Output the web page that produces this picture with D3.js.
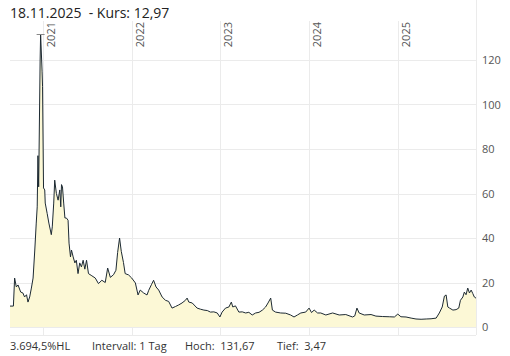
<!DOCTYPE html>
<html>
<head>
<meta charset="utf-8">
<script src="https://cdn.jsdelivr.net/npm/d3@7"></script>
<style>
  body { margin: 0; background: #fff; }
  svg { display: block; font-family: "Open Sans", sans-serif; }
</style>
</head>
<body>
<svg id="chart" width="510" height="356"></svg>
<script>
// Kursverlauf
const dates = [
  "2020-08-18","2020-09-01","2020-09-06","2020-09-13","2020-09-20","2020-10-01","2020-10-10","2020-10-17",
  "2020-10-25","2020-10-31","2020-11-07","2020-11-14","2020-11-21","2020-11-28","2020-12-04","2020-12-08",
  "2020-12-11","2020-12-14","2020-12-20","2020-12-22","2020-12-28","2020-12-30","2021-01-03","2021-01-08",
  "2021-01-10","2021-01-18","2021-01-25","2021-01-31","2021-02-04","2021-02-08","2021-02-14","2021-02-18",
  "2021-02-25","2021-03-04","2021-03-11","2021-03-15","2021-03-18","2021-03-22","2021-03-27","2021-04-01",
  "2021-04-07","2021-04-14","2021-04-18","2021-04-24","2021-04-28","2021-05-05","2021-05-12","2021-05-18",
  "2021-05-25","2021-06-01","2021-06-08","2021-06-15","2021-06-22","2021-06-29","2021-07-07","2021-07-21",
  "2021-08-04","2021-08-17","2021-08-31","2021-09-14","2021-09-24","2021-10-05","2021-10-18","2021-10-28",
  "2021-11-04","2021-11-12","2021-11-19","2021-11-28","2021-12-05","2021-12-19","2022-01-01","2022-01-16",
  "2022-01-27","2022-02-05","2022-02-19","2022-03-05","2022-03-12","2022-03-23","2022-04-01","2022-04-11",
  "2022-04-22","2022-05-06","2022-05-20","2022-06-02","2022-06-16","2022-06-30","2022-07-13","2022-07-27",
  "2022-08-10","2022-08-17","2022-08-24","2022-09-07","2022-09-27","2022-10-11","2022-10-25","2022-11-08",
  "2022-11-21","2022-12-05","2022-12-19","2022-12-30","2023-01-08","2023-01-22","2023-02-05","2023-02-15",
  "2023-02-21","2023-03-04","2023-03-18","2023-04-01","2023-04-15","2023-04-28","2023-05-12","2023-05-26",
  "2023-06-09","2023-06-23","2023-07-06","2023-07-16","2023-07-27","2023-08-03","2023-08-16","2023-09-06",
  "2023-09-27","2023-10-17","2023-10-31","2023-11-14","2023-11-28","2023-12-18","2024-01-01","2024-01-11",
  "2024-01-22","2024-02-05","2024-02-18","2024-03-10","2024-04-07","2024-05-04","2024-05-31","2024-06-28",
  "2024-07-07","2024-07-16","2024-07-25","2024-08-15","2024-09-12","2024-10-02","2024-10-30","2024-11-26",
  "2024-12-17","2024-12-31","2025-01-13","2025-02-03","2025-02-24","2025-03-16","2025-04-06","2025-04-27",
  "2025-05-17","2025-06-07","2025-06-20","2025-07-02","2025-07-11","2025-07-18","2025-07-25","2025-08-01",
  "2025-08-15","2025-08-28","2025-09-08","2025-09-15","2025-09-25","2025-10-01","2025-10-08","2025-10-15",
  "2025-10-22","2025-10-29","2025-11-05","2025-11-11","2025-11-18"
];
const kurs = [
  9.4, 9.4, 22, 18, 18.9, 15.7, 15.3, 13.5,
  14.5, 11.2, 13.5, 17.5, 22, 34.6, 46.7, 54,
  77, 63, 120, 131.67, 115, 108, 62.5, 61.6,
  55.7, 51, 46.7, 43.6, 41.5, 45, 55.7, 66,
  60, 57, 61.6, 54, 64, 63, 55.7, 49,
  49, 48, 37.7, 31.5, 34.6, 31.5, 28.8, 30,
  24, 28.8, 27, 30, 26, 30, 24, 23,
  22, 19.5, 21, 20, 26.5, 22.3, 23.5, 25.5,
  33.5, 40, 34, 29, 24, 23.4, 22, 19.8,
  14.4, 16.6, 15.3, 14.4, 16.5, 19, 21, 18,
  16.6, 13.5, 12, 11.5, 8.5, 9.2, 9.9, 10.8,
  12, 13, 11.2, 10.8, 8.5, 8, 7.6, 7.4,
  6.7, 6.8, 6.3, 4.5, 6.7, 8.5, 9, 11.2,
  9, 9.5, 6.7, 6.8, 6.3, 6.6, 5.4, 6.3,
  6.6, 7.6, 9, 10.8, 13, 7.6, 6.7, 6.3,
  6.2, 5.4, 4.5, 5.4, 6.3, 6.7, 8.5, 6.5,
  7.6, 6.3, 6.3, 5.4, 6.3, 5.4, 5.6, 4.5,
  5, 8.5, 6.3, 5.4, 5.6, 4.9, 4.7, 4.6,
  4.5, 5.8, 4.6, 4.5, 4, 3.6, 3.47, 3.6,
  3.7, 4, 6.3, 9, 13.9, 14.4, 9, 8.5,
  7.6, 7.8, 8.5, 12, 13.5, 15.7, 14.5, 17.5,
  15.3, 16.6, 15, 13.5, 12.97
];
const yTicks = [0, 20, 40, 60, 80, 100, 120];
const yearTicks = ["2021-01-01", "2022-01-01", "2023-01-01", "2024-01-01", "2025-01-01"];
const header = "18.11.2025  - Kurs: 12,97";
const footer = [
  { label: "3.694,5%HL", x: 10 },
  { label: "Intervall: 1 Tag", x: 92 },
  { label: "Hoch:  131,67", x: 185 },
  { label: "Tief:  3,47", x: 277 }
];

const parse = d3.timeParse("%Y-%m-%d");
const data = dates.map((d, i) => ({ date: parse(d), value: kurs[i] }));

const plotLeft = 10, plotRight = 476, plotTop = 21, plotBottom = 335;
const svg = d3.select("#chart");

const x = d3.scaleTime()
  .domain(d3.extent(data, d => d.date))
  .range([plotLeft, plotRight]);
const y = d3.scaleLinear()
  .domain([0, 120])
  .range([327, 60]);

// gridlines
const grid = svg.append("g").attr("stroke", "#ebebeb").attr("stroke-width", 1);
grid.selectAll(".h").data(yTicks).join("line")
  .attr("x1", plotLeft).attr("x2", plotRight)
  .attr("y1", d => Math.round(y(d)) + 0.5).attr("y2", d => Math.round(y(d)) + 0.5);
grid.append("line")
  .attr("x1", plotLeft).attr("x2", plotRight)
  .attr("y1", plotBottom + 0.5).attr("y2", plotBottom + 0.5);
grid.selectAll(".v").data(yearTicks.map(parse)).join("line")
  .attr("x1", d => Math.round(x(d)) + 0.5).attr("x2", d => Math.round(x(d)) + 0.5)
  .attr("y1", plotTop).attr("y2", plotBottom);
grid.append("line")
  .attr("x1", plotRight + 0.5).attr("x2", plotRight + 0.5)
  .attr("y1", 0).attr("y2", plotBottom);

// area + line
const area = d3.area()
  .x(d => x(d.date))
  .y0(y(0))
  .y1(d => y(d.value));
const line = d3.line()
  .x(d => x(d.date))
  .y(d => y(d.value));

svg.append("path").datum(data)
  .attr("d", area)
  .attr("fill", "#fcf8d6");
svg.append("path").datum(data)
  .attr("d", line)
  .attr("fill", "none")
  .attr("stroke", "#1d2a33")
  .attr("stroke-width", 1)
  .attr("stroke-linejoin", "round");

// high marker
const hi = data[d3.maxIndex(data, d => d.value)];
svg.append("line")
  .attr("x1", x(hi.date) - 4).attr("x2", x(hi.date) + 4)
  .attr("y1", Math.round(y(hi.value)) + 0.5).attr("y2", Math.round(y(hi.value)) + 0.5)
  .attr("stroke", "#888");

// year labels
svg.append("g").selectAll("text").data(yearTicks.map(parse)).join("text")
  .attr("transform", d => `translate(${Math.round(x(d)) + 12},${plotTop + 1}) rotate(-90)`)
  .attr("text-anchor", "end")
  .attr("font-size", 11)
  .attr("fill", "#555")
  .text(d => d3.timeFormat("%Y")(d));

// right axis
const axis = d3.axisRight(y).tickValues(yTicks).tickSize(0).tickPadding(6);
svg.append("g")
  .attr("transform", `translate(${plotRight},0)`)
  .call(axis)
  .call(g => g.select(".domain").remove())
  .call(g => g.selectAll("text").attr("font-size", 11).attr("fill", "#555").attr("font-family", "Open Sans, sans-serif"));

// header
svg.append("text")
  .attr("x", 10).attr("y", 18)
  .attr("font-size", 14)
  .attr("fill", "#222")
  .style("white-space", "pre")
  .text(header);

// footer
svg.append("g").selectAll("text").data(footer).join("text")
  .attr("x", d => d.x).attr("y", 350)
  .attr("font-size", 11)
  .attr("fill", "#333")
  .style("white-space", "pre")
  .text(d => d.label);
</script>
</body>
</html>
